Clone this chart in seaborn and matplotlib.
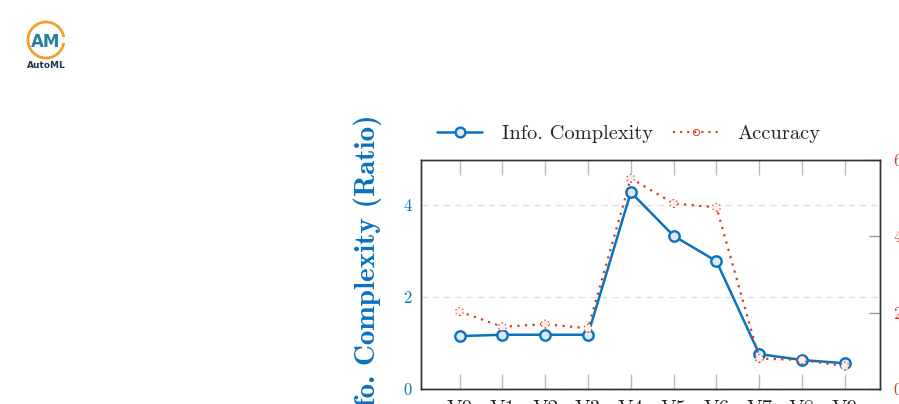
import matplotlib
matplotlib.use("Agg")
import matplotlib.pyplot as plt
from matplotlib.lines import Line2D
from matplotlib.patches import Arc
import seaborn as sns
import pandas as pd

versions = ["V0", "V1", "V2", "V3", "V4", "V5", "V6", "V7", "V8", "V9"]
info_complexity = [1.15, 1.18, 1.18, 1.18, 4.28, 3.33, 2.78, 0.76, 0.63, 0.56]
accuracy = [20.3, 16.3, 17.0, 15.9, 55.2, 48.6, 47.6, 8.0, 7.6, 6.0]
left_ticks = [0, 2, 4]
right_ticks = [0, 20, 40, 60]

BLUE = "#0b72bd"
RED = "#d93a1f"

sns.set_theme(style="white")
plt.rcParams["font.family"] = ["cmr10", "DejaVu Serif"]
plt.rcParams["axes.formatter.use_mathtext"] = True

df = pd.DataFrame({"version": versions, "info": info_complexity, "acc": accuracy})

fig = plt.figure(figsize=(8.99, 4.04), dpi=100)
ax = fig.add_axes([421 / 899, 1 - 389 / 404, 459 / 899, 229 / 404])
ax2 = ax.twinx()

sns.lineplot(data=df, x="version", y="info", ax=ax, color=BLUE, lw=1.8,
             marker="o", markersize=7.5, markerfacecolor="#dfeaf5",
             markeredgecolor=BLUE, markeredgewidth=1.7, zorder=3)
sns.lineplot(data=df, x="version", y="acc", ax=ax2, color=RED, lw=1.6,
             linestyle=(0, (1, 2.4)), zorder=3)
ax2.scatter(range(len(versions)), accuracy, s=32, facecolors="#fdf0ec",
            edgecolors=RED, linewidths=0.9, linestyle=(0, (1, 2.2)), zorder=4)

ax.set_xlim(-0.9, 9.82)
ax.set_ylim(0, 4.98)
ax2.set_ylim(0, 60)
ax.set_yticks(left_ticks)
ax.set_yticklabels([str(t) for t in left_ticks])
ax2.set_yticks(right_ticks)
ax2.set_yticklabels([str(t) for t in right_ticks])
ax.set_xticks(range(len(versions)))
ax.set_xticklabels(versions)
ax.set_xlabel("")
ax2.set_xlabel("")
ax2.set_ylabel("")

ax.grid(axis="y", color="#dddddd", linestyle=(0, (5, 4)), lw=0.9)
ax.set_axisbelow(True)

for a in (ax, ax2):
    for s in a.spines.values():
        s.set_color("#333333")
        s.set_linewidth(1.0)

ax.tick_params(axis="x", direction="in", length=11, width=1, color="#bbbbbb",
               top=True, bottom=True, labelsize=15, pad=8, labelcolor="#222222")
ax.tick_params(axis="y", direction="in", length=0, labelsize=12,
               labelcolor=BLUE, pad=6.5)
ax2.tick_params(axis="y", direction="in", length=8, width=1, color="#999999",
                labelsize=12, labelcolor=RED, pad=9.5)

ax.set_ylabel("Info. Complexity (Ratio)", color=BLUE, fontsize=21,
              fontfamily="cmb10")
ax.yaxis.set_label_coords(-0.084, 0.5)

handles = [
    Line2D([], [], color=BLUE, lw=1.8, marker="o", markersize=7,
           markerfacecolor="#dfeaf5", markeredgecolor=BLUE, markeredgewidth=1.7),
    Line2D([], [], color=RED, lw=1.5, linestyle=(0, (1, 2.4)), marker="o",
           markersize=4.5, markerfacecolor="none", markeredgecolor=RED,
           markeredgewidth=0.7),
]
ax.legend(handles, ["Info. Complexity", "Accuracy"], loc="lower center",
          bbox_to_anchor=(0.453, 0.995), ncol=2, frameon=False, fontsize=14.7,
          handlelength=2.2, columnspacing=1.0, handletextpad=0.95)

# logo
fig.patches.append(Arc((46 / 899, 1 - 40 / 404), 36 / 899, 36 / 404,
                       theta1=20, theta2=340, color="#f0a030", lw=2,
                       transform=fig.transFigure))
fig.text(46 / 899, 1 - 42 / 404, "AM", ha="center", va="center",
         fontsize=12, fontweight="bold", color="#2a7fa0", family="DejaVu Sans")
fig.text(46 / 899, 1 - 66 / 404, "AutoML", ha="center", va="center",
         fontsize=6.5, fontweight="bold", color="#1f3550", family="DejaVu Sans")

fig.savefig("out.png", dpi=100)
